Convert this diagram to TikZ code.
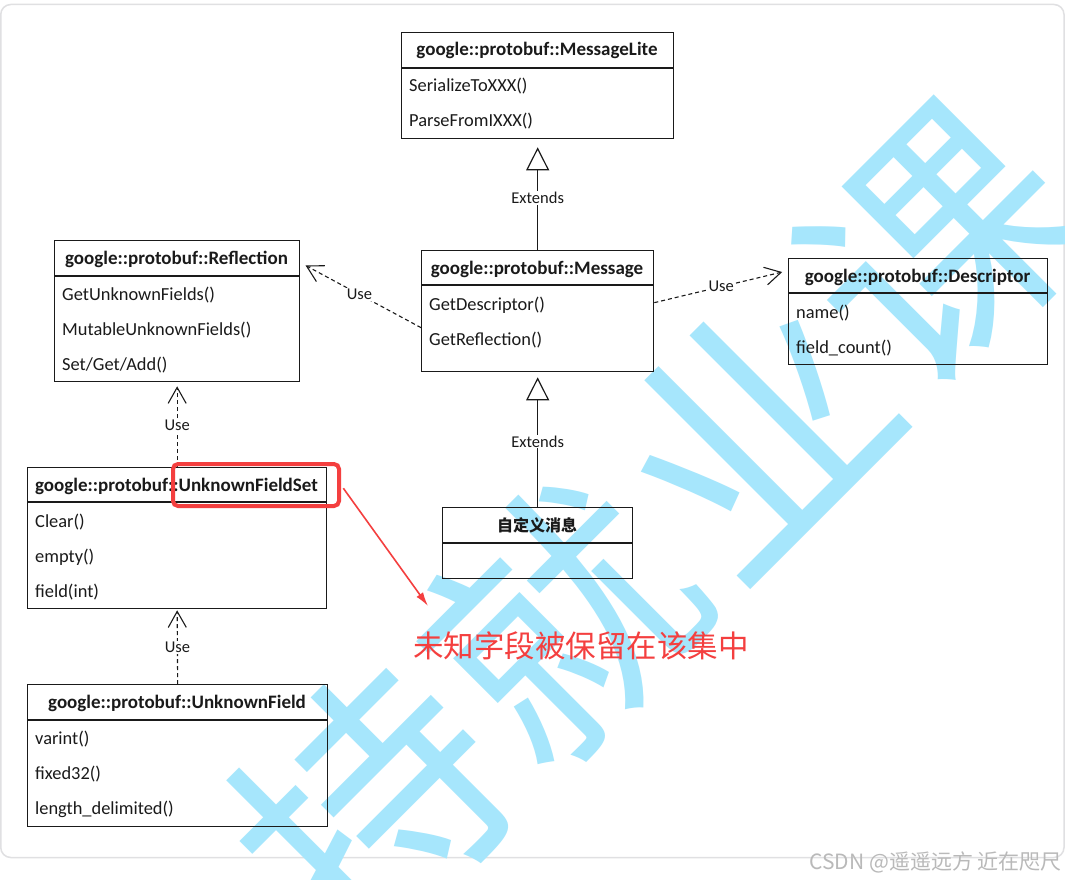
\documentclass[tikz,border=0pt]{standalone}
\usepackage{fontspec}
\setmainfont{Carlito}
\newfontfamily\cjk{Noto Sans CJK SC}
\usetikzlibrary{arrows.meta}
\definecolor{wm}{RGB}{166,230,252}
\definecolor{redmark}{RGB}{244,63,63}
\definecolor{framec}{RGB}{224,224,226}
\definecolor{ink}{RGB}{26,26,26}
\begin{document}
\begin{tikzpicture}[x=1pt,y=-1pt,
  cls/.style={draw=ink, line width=1.3pt, inner sep=0pt, anchor=north west},
  divider/.style={draw=ink, line width=1.3pt},
  hdr/.style={font=\bfseries\fontsize{19}{22}\selectfont, text=ink, anchor=base, inner sep=0pt},
  rowtext/.style={font=\fontsize{18.4}{22}\selectfont, text=ink, anchor=base west, inner sep=0pt},
  lbl/.style={font=\fontsize{16.5}{18}\selectfont, text=ink, fill=white, inner sep=1pt},
  extends/.style={draw=ink, line width=1.2pt, -{Triangle[open, length=23pt, width=23pt]}},
  uses/.style={draw=ink, line width=1.1pt, dash pattern=on 4pt off 3pt, -{Straight Barb[length=16pt, width=18pt]}},
  wmtext/.style={text=wm, font=\cjk\fontsize{260}{260}\selectfont, rotate=45, inner sep=0pt},
  redarrow/.style={draw=redmark, line width=1.6pt, -{Latex[length=14pt, width=8pt]}},
]
\useasboundingbox (0,0) rectangle (1065,880);
\fill[white] (0,0) rectangle (1065,880);
% card frame
\draw[framec, line width=1.5pt, rounded corners=10pt] (0.75,4.5) rectangle (1064,857.5);

% watermark
\node[wmtext] (wm1) at (372,805) {持};
\node[wmtext] (wm2) at (560,622) {就};
\node[wmtext] (wm3) at (753,430) {业};
\node[wmtext] (wm4) at (940,245) {课};

% MessageLite
\node[cls, minimum width=272, minimum height=106] (ml) at (401,32) {};
\draw[divider] (401,68) -- (673,68);
\node[hdr] (mlh) at (537,56) {google::protobuf::MessageLite};
\node[rowtext] (ml1) at (409,92) {SerializeToXXX()};
\node[rowtext] (ml2) at (409,127) {ParseFromIXXX()};

% Message
\node[cls, minimum width=232, minimum height=121] (msg) at (421,250) {};
\draw[divider] (421,285) -- (653,285);
\node[hdr] (msgh) at (537,274) {google::protobuf::Message};
\node[rowtext] (msg1) at (429,310) {GetDescriptor()};
\node[rowtext] (msg2) at (429,345) {GetReflection()};

% Descriptor
\node[cls, minimum width=259, minimum height=106] (desc) at (788,258) {};
\draw[divider] (788,293) -- (1047,293);
\node[hdr] (desch) at (917.5,282) {google::protobuf::Descriptor};
\node[rowtext] (desc1) at (796,318) {name()};
\node[rowtext] (desc2) at (796,353) {field\_count()};

% Reflection
\node[cls, minimum width=245, minimum height=141] (refl) at (54,240) {};
\draw[divider] (54,276) -- (299,276);
\node[hdr] (reflh) at (176.5,264) {google::protobuf::Reflection};
\node[rowtext] (refl1) at (62,300) {GetUnknownFields()};
\node[rowtext] (refl2) at (62,335) {MutableUnknownFields()};
\node[rowtext] (refl3) at (62,370) {Set/Get/Add()};

% UnknownFieldSet
\node[cls, minimum width=299, minimum height=141] (ufs) at (27,467) {};
\draw[divider] (27,502) -- (326,502);
\node[hdr] (ufsh) at (176.5,491) {google::protobuf::UnknownFieldSet};
\node[rowtext] (ufs1) at (35,527) {Clear()};
\node[rowtext] (ufs2) at (35,562) {empty()};
\node[rowtext] (ufs3) at (35,597) {field(int)};

% UnknownField
\node[cls, minimum width=300, minimum height=142] (uf) at (27,684) {};
\draw[divider] (27,720) -- (327,720);
\node[hdr] (ufh) at (177,708) {google::protobuf::UnknownField};
\node[rowtext] (uf1) at (35,744) {varint()};
\node[rowtext] (uf2) at (35,779) {fixed32()};
\node[rowtext] (uf3) at (35,814) {length\_delimited()};

% custom message
\node[cls, minimum width=190, minimum height=71] (cm) at (442,507) {};
\draw[divider] (442,543) -- (632,543);
\node[text=ink, font=\cjk\bfseries\fontsize{16}{18}\selectfont, anchor=base, inner sep=0pt] (cmh) at (537,531) {自定义消息};

% connectors
\draw[extends, shorten >=8pt] (msg.north) -- node[lbl, pos=0.47] (e1) {Extends} (ml.south);
\draw[extends, shorten >=5pt] (cm.north) -- node[lbl, pos=0.485] (e2) {Extends} (msg.south);
\draw[uses, shorten >=6pt] ([yshift=8.5pt]msg.east) -- node[lbl, pos=0.5] (u1) {Use} ([yshift=41pt]desc.west);
\draw[uses, shorten >=6pt] ([yshift=-16.5pt]msg.west) -- node[lbl, pos=0.51] (u2) {Use} ([yshift=48.5pt]refl.east);
\draw[uses, shorten >=4pt] (ufs.north) -- node[lbl, pos=0.49] (u3) {Use} (refl.south);
\draw[uses, shorten >=1pt] (uf.north) -- node[lbl, pos=0.49] (u4) {Use} (ufs.south);

% red annotation
\node[draw=redmark, line width=4pt, rounded corners=5pt, minimum width=166, minimum height=42, anchor=north west, inner sep=0pt] (hl) at (171,462) {};
\coordinate (redtip) at (428,606);
\draw[redarrow, shorten <=4pt] (hl.east) -- (redtip);
\node[text=redmark, font=\cjk\fontsize{30.5}{32}\selectfont, inner sep=0pt] (note) at (581,646) {未知字段被保留在该集中};

% CSDN mark
\node[text=gray!55, font=\cjk\fontsize{21}{22}\selectfont, anchor=east, inner sep=0pt] (csdn) at (1062,862) {CSDN @遥遥远方 近在咫尺};
\end{tikzpicture}
\end{document}
